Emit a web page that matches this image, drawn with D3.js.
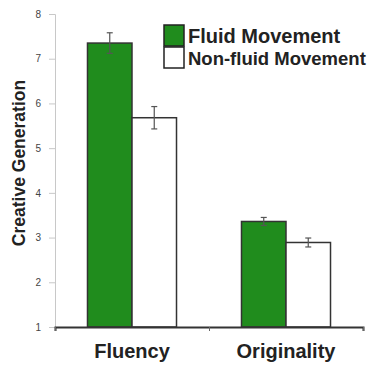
<!DOCTYPE html>
<html>
<head>
<meta charset="utf-8">
<script src="https://cdn.jsdelivr.net/npm/d3@7"></script>
<style>
  body { margin: 0; background: #fff; }
  svg { display: block; font-family: "Liberation Sans", Arial, sans-serif; }
</style>
</head>
<body>
<div id="chart"></div>
<script>
// data
categories = ['Fluency', 'Originality']
seriesNames = ['Fluid Movement', 'Non-fluid Movement']
fluidValues = [7.35, 3.36]
fluidErrors = [0.23, 0.09]
nonFluidValues = [5.68, 2.89]
nonFluidErrors = [0.25, 0.1]
yTicks = [1, 2, 3, 4, 5, 6, 7, 8]

svgWidth = 370
svgHeight = 366

margin = { top: 14, left: 55, right: 7, bottom: 39 }
width = svgWidth - margin.left - margin.right
height = svgHeight - margin.top - margin.bottom

colors = ['#208c1d', '#ffffff']

svg = d3.select('#chart')
        .append('svg')
        .attr('width', svgWidth)
        .attr('height', svgHeight)

chartGroup = svg.append('g')
                .attr('transform', `translate(${margin.left},${margin.top})`)

xScale = d3.scaleBand()
           .domain(categories)
           .range([0, width])

xInner = d3.scaleBand()
           .domain(seriesNames)
           .range([0, xScale.bandwidth()])
           .paddingOuter(0.73)
           .paddingInner(0)

yScale = d3.scaleLinear()
           .domain([1, 8])
           .range([height, 0])

// y axis
leftAxis = d3.axisLeft(yScale).tickValues(yTicks).tickSize(6).tickPadding(8).tickFormat(d3.format('d'))
yAxis = chartGroup.append('g').call(leftAxis)
yAxis.select('.domain').attr('stroke', '#c8c8c8')
yAxis.selectAll('.tick line').attr('stroke', '#c8c8c8')
yAxis.selectAll('text').attr('font-size', 10).attr('fill', '#444')

// grouped data
rows = categories.map((c, i) => ({
  cat: c,
  bars: [
    { name: seriesNames[0], value: fluidValues[i], err: fluidErrors[i], color: colors[0] },
    { name: seriesNames[1], value: nonFluidValues[i], err: nonFluidErrors[i], color: colors[1] }
  ]
}))

groups = chartGroup.selectAll('.grp')
                   .data(rows)
                   .enter()
                   .append('g')
                   .attr('transform', d => `translate(${xScale(d.cat)},0)`)

groups.selectAll('rect')
      .data(d => d.bars)
      .enter()
      .append('rect')
      .attr('x', d => xInner(d.name))
      .attr('y', d => yScale(d.value))
      .attr('width', xInner.bandwidth())
      .attr('height', d => height - yScale(d.value))
      .attr('fill', d => d.color)
      .attr('stroke', '#333')
      .attr('stroke-width', 1.5)

// error bars
cx = d => xInner(d.name) + xInner.bandwidth() / 2
errs = groups.selectAll('.err')
             .data(d => d.bars)
             .enter()
             .append('g')
             .attr('stroke', '#555')
             .attr('stroke-width', 1.2)
errs.append('line')
    .attr('x1', cx).attr('x2', cx)
    .attr('y1', d => yScale(d.value + d.err))
    .attr('y2', d => yScale(d.value - d.err))
errs.append('line')
    .attr('x1', d => cx(d) - 3).attr('x2', d => cx(d) + 3)
    .attr('y1', d => yScale(d.value + d.err))
    .attr('y2', d => yScale(d.value + d.err))
errs.append('line')
    .attr('x1', d => cx(d) - 3).attr('x2', d => cx(d) + 3)
    .attr('y1', d => yScale(d.value - d.err))
    .attr('y2', d => yScale(d.value - d.err))

// x axis
xTickScale = d3.scaleLinear().domain([0, categories.length]).range([0, width])
bottomAxis = d3.axisBottom(xTickScale).ticks(categories.length).tickSize(4).tickFormat('')
xAxis = chartGroup.append('g')
                  .attr('transform', `translate(0,${height})`)
                  .call(bottomAxis)
xAxis.select('.domain').attr('stroke', '#333').attr('stroke-width', 2)
xAxis.selectAll('.tick line').attr('stroke', '#666')

chartGroup.selectAll('.catLabel')
          .data(categories)
          .enter()
          .append('text')
          .attr('x', d => xScale(d) + xScale.bandwidth() / 2)
          .attr('y', height + 31)
          .attr('text-anchor', 'middle')
          .attr('font-size', 20)
          .attr('font-weight', 'bold')
          .attr('fill', '#222')
          .text(d => d)

// y title
svg.append('text')
   .attr('transform', `translate(25,163) rotate(-90)`)
   .attr('text-anchor', 'middle')
   .attr('font-size', 17.5)
   .attr('font-weight', 'bold')
   .attr('fill', '#222')
   .text('Creative Generation')

// legend
legend = svg.append('g').attr('transform', 'translate(164,25)')
legendItems = legend.selectAll('g')
                    .data(seriesNames)
                    .enter()
                    .append('g')
                    .attr('transform', (d, i) => `translate(0,${i * 22})`)
legendItems.append('rect')
           .attr('width', 20)
           .attr('height', 21)
           .attr('fill', (d, i) => colors[i])
           .attr('stroke', '#222')
           .attr('stroke-width', 1.5)
legendItems.append('text')
           .attr('x', 24)
           .attr('y', 18)
           .attr('font-size', (d, i) => i === 0 ? 20 : 18.5)
           .attr('font-weight', 'bold')
           .attr('fill', '#222')
           .text(d => d)
</script>
</body>
</html>
